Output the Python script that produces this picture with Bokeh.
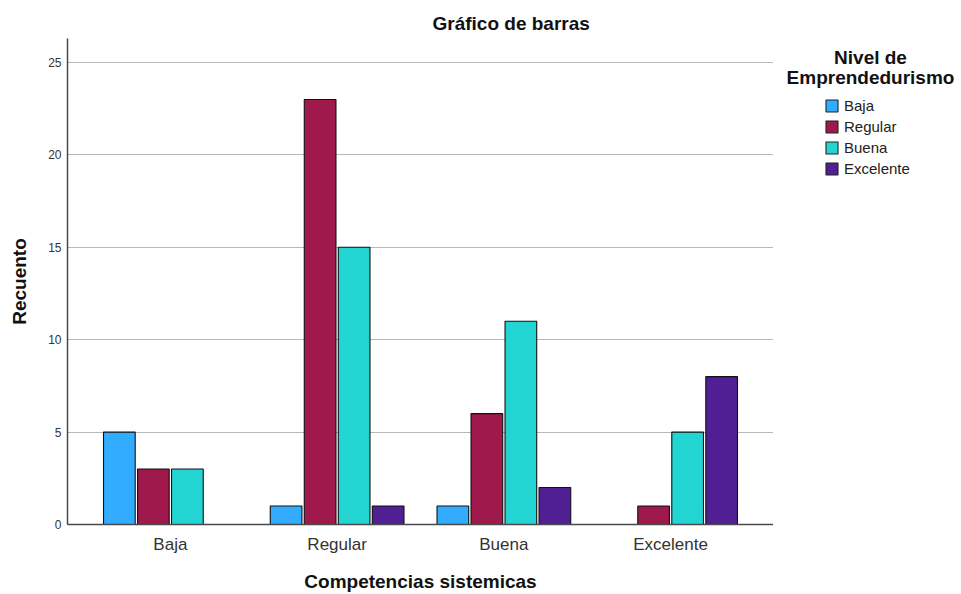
from bokeh.plotting import figure
from bokeh.layouts import row
from bokeh.models import (ColumnDataSource, FactorRange, Legend, LegendItem,
                          Label, Range1d, FixedTicker)
from bokeh.transform import dodge
from bokeh.embed import file_html
from bokeh.resources import INLINE

# ---- data ----
categories = ["Baja", "Regular", "Buena", "Excelente"]
series_names = ["Baja", "Regular", "Buena", "Excelente"]
baja = [5, 1, 1, 0]
regular = [3, 23, 6, 1]
buena = [3, 15, 11, 5]
excelente = [0, 1, 2, 8]
colors = ["#31acff", "#9f194c", "#22d5d2", "#4f1f93"]
y_ticks = [0, 5, 10, 15, 20, 25]

title_text = "Gráfico de barras"
x_title = "Competencias sistemicas"
y_title = "Recuento"
legend_title = ["Nivel de", "Emprendedurismo"]

series_values = [baja, regular, buena, excelente]

FONT = "Liberation Sans"
H = 594
TOP = 38
BOTTOM = 70

p = figure(x_range=FactorRange(*categories, range_padding=0.0585),
           y_range=Range1d(0, 26.3),
           width=773, height=H,
           output_backend="svg", toolbar_location=None,
           min_border_left=67, min_border_right=0,
           min_border_top=TOP, min_border_bottom=BOTTOM)
p.outline_line_color = None
p.xgrid.grid_line_color = None
p.ygrid.grid_line_color = "#b8b8b8"
p.ygrid.grid_line_width = 1

p.title.text = title_text
p.title.align = "left"
p.title.offset = 365
p.title.standoff = 9
p.title.text_font = FONT
p.title.text_font_size = "19px"
p.title.text_font_style = "bold"
p.title.text_color = "#111111"

p.yaxis.ticker = FixedTicker(ticks=y_ticks)
for ax in (p.xaxis[0], p.yaxis[0]):
    ax.axis_line_color = "#4a4a4a"
    ax.axis_line_width = 1.5
    ax.major_tick_line_color = None
    ax.minor_tick_line_color = None
    ax.major_tick_out = 0
    ax.major_tick_in = 0
    ax.minor_tick_out = 0
    ax.minor_tick_in = 0
    ax.major_label_text_font = FONT
    ax.major_label_text_color = "#333333"
    ax.axis_label_text_font = FONT
    ax.axis_label_text_font_style = "bold"
    ax.axis_label_text_color = "#111111"
    ax.axis_label_text_font_size = "19px"

p.yaxis.major_label_text_font_size = "12px"
p.yaxis.major_label_standoff = 6
p.yaxis.axis_label = y_title
p.yaxis.axis_label_standoff = 15

p.xaxis.major_label_text_font_size = "17px"
p.xaxis.major_label_standoff = 10
p.xaxis.axis_label = x_title
p.xaxis.axis_label_standoff = 14

n = len(series_names)
slot = 0.204
bar_w = 0.19
for j, (name, vals, col) in enumerate(zip(series_names, series_values, colors)):
    cats = [c for c, v in zip(categories, vals) if v > 0]
    tops = [v for v in vals if v > 0]
    src = ColumnDataSource(dict(cat=cats, top=tops))
    off = (j - (n - 1) / 2) * slot
    p.vbar(x=dodge("cat", off, range=p.x_range), top="top", width=bar_w,
           source=src, fill_color=col, line_color="#111111", line_width=1.1)

# ---- legend panel (separate figure to the right, frame aligned with p) ----
QW = 961 - 773
q = figure(width=QW, height=H, x_range=Range1d(0, QW),
           y_range=Range1d(H - BOTTOM, TOP),   # y grows downward, page pixels
           output_backend="svg", toolbar_location=None, title=None,
           x_axis_type=None, y_axis_type=None,
           min_border_left=0, min_border_right=0,
           min_border_top=TOP, min_border_bottom=BOTTOM)
q.outline_line_color = None
q.grid.visible = False

nan = float("nan")
items = []
for name, col in zip(series_names, colors):
    # legend swatch proxy (no visible bar)
    r = q.vbar(x=[nan], top=[nan], width=1, fill_color=col,
               line_color="#222222", line_width=1.1)
    items.append(LegendItem(label=name, renderers=[r]))

legend = Legend(items=items, location=(51, 347))
legend.margin = 0
legend.padding = 0
legend.spacing = 4
legend.glyph_width = 15
legend.glyph_height = 15
legend.label_height = 15
legend.label_standoff = 5
legend.label_text_font = FONT
legend.label_text_font_size = "15px"
legend.label_text_color = "#222222"
legend.border_line_alpha = 0
legend.background_fill_alpha = 0
q.add_layout(legend, "center")

for k, t in enumerate(legend_title):
    q.add_layout(Label(x=97, y=57 + 20 * k, text=t, text_font=FONT,
                       text_font_style="bold", text_font_size="19px",
                       text_align="center", text_baseline="middle",
                       text_color="#111111"))

layout = row(p, q)
open("out.html", "w").write(file_html(layout, INLINE))
